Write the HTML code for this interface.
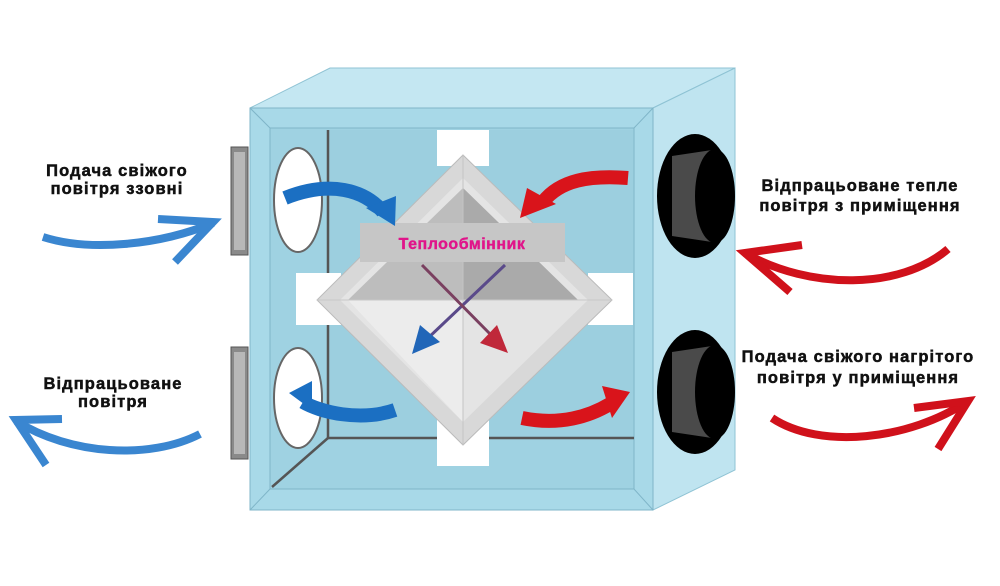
<!DOCTYPE html>
<html><head><meta charset="utf-8"><style>
body{margin:0;background:#fff;width:1000px;height:586px;overflow:hidden}
svg{display:block}
text{font-family:"Liberation Sans",sans-serif;font-weight:bold}
</style></head><body>
<svg width="1000" height="586" viewBox="0 0 1000 586">
<!-- top face -->
<polygon points="250,108 330,68 735,68 653,108" fill="#c4e7f2" stroke="#8fc3d4" stroke-width="1"/>
<!-- right face -->
<polygon points="653,108 735,68 735,470 653,510" fill="#bfe4f0" stroke="#8fc3d4" stroke-width="1"/>
<!-- front frame -->
<rect x="250" y="108" width="403" height="402" fill="#a8d9e8" stroke="#7fb5c8"/>
<rect x="270" y="128" width="364" height="361" fill="#9fd2e2" stroke="#7fb5c8"/>
<line x1="250" y1="108" x2="270" y2="128" stroke="#7fb5c8"/>
<line x1="653" y1="108" x2="634" y2="128" stroke="#7fb5c8"/>
<line x1="250" y1="510" x2="270" y2="489" stroke="#7fb5c8"/>
<line x1="653" y1="510" x2="634" y2="489" stroke="#7fb5c8"/>
<!-- inner back -->
<rect x="328" y="130" width="305" height="308" fill="#9ccfdf"/>
<polyline points="328,130 328,438 634,438" fill="none" stroke="#555" stroke-width="2.5"/>
<line x1="328" y1="438" x2="272" y2="487" stroke="#555" stroke-width="2.5"/>
<!-- left ports -->
<rect x="231" y="147" width="17" height="108" fill="#8a8a8a" stroke="#555"/>
<rect x="234" y="152" width="11" height="98" fill="#b8b8b8"/>
<rect x="231" y="347" width="17" height="112" fill="#8a8a8a" stroke="#555"/>
<rect x="234" y="352" width="11" height="102" fill="#b8b8b8"/>
<ellipse cx="298" cy="200" rx="24" ry="52" fill="#fff" stroke="#666" stroke-width="2"/>
<ellipse cx="298" cy="398" rx="24" ry="50" fill="#fff" stroke="#666" stroke-width="2"/>
<!-- right ports -->
<ellipse cx="695" cy="196" rx="38" ry="62" fill="#000"/>
<path d="M672,156 L712,150 L712,242 L672,236 Z" fill="#4a4a4a"/>
<ellipse cx="715" cy="196" rx="20" ry="47" fill="#000"/>
<ellipse cx="695" cy="392" rx="38" ry="62" fill="#000"/>
<path d="M672,352 L712,346 L712,438 L672,432 Z" fill="#4a4a4a"/>
<ellipse cx="715" cy="392" rx="20" ry="47" fill="#000"/>
<!-- white notches -->
<rect x="437" y="130" width="52" height="36" fill="#fff"/>
<rect x="437" y="420" width="52" height="46" fill="#fff"/>
<rect x="296" y="273" width="45" height="52" fill="#fff"/>
<rect x="588" y="273" width="45" height="52" fill="#fff"/>
<!-- diamond -->
<polygon points="463,155 612,300 463,445 317,300" fill="#d8d8d8" stroke="#bbb"/>
<polygon points="463,178 588,300 463,422 340,300" fill="#e4e4e4"/>
<polygon points="463,188 578,300 348,300" fill="#bdbdbd"/>
<polygon points="463,188 578,300 463,300" fill="#aaa"/>
<polygon points="348,300 463,300 463,422" fill="#ececec"/>
<line x1="463" y1="155" x2="463" y2="445" stroke="#c4c4c4"/>
<line x1="317" y1="300" x2="612" y2="300" stroke="#c8c8c8"/>
<!-- label -->
<rect x="360" y="223" width="205" height="39" fill="#c6c6c6"/>
<text x="462" y="249" font-size="16" fill="#e0158a" text-anchor="middle" stroke="#e0158a" stroke-width="0.4" letter-spacing="0.5">Теплообмінник</text>
<!-- cross arrows -->
<line x1="505" y1="265" x2="426" y2="340" stroke="#5a4a8a" stroke-width="3"/>
<polygon points="412,354 420,325 440,342" fill="#2166b8"/>
<line x1="422" y1="265" x2="496" y2="340" stroke="#7a4060" stroke-width="3"/>
<polygon points="508,353 480,343 497,325" fill="#c0283a"/>
<!-- inner blue arrows -->
<path d="M285,198 C330,180 365,190 383,212" fill="none" stroke="#1b6fc2" stroke-width="14"/>
<polygon points="395,226 366,208 396,196" fill="#1b6fc2"/>
<path d="M395,410 C360,422 320,412 303,402" fill="none" stroke="#1b6fc2" stroke-width="14"/>
<polygon points="289,393 312,381 312,410" fill="#1b6fc2"/>
<!-- inner red arrows -->
<path d="M628,178 C590,175 560,180 543,202" fill="none" stroke="#d9141b" stroke-width="14"/>
<polygon points="520,218 527,188 556,204" fill="#d9141b"/>
<path d="M522,418 C560,426 590,416 610,404" fill="none" stroke="#d9141b" stroke-width="14"/>
<polygon points="630,392 602,386 612,418" fill="#d9141b"/>
<!-- left outer arrows -->
<g fill="none" stroke="#3a86d0" stroke-width="8">
<path d="M43,237 C90,252 160,245 213,223"/>
<path d="M158,219 L213,222 L175,262"/>
<path d="M200,434 C150,460 70,455 16,421"/>
<path d="M62,419 L16,420 L46,465"/>
</g>
<!-- right outer arrows -->
<g fill="none" stroke="#d0111b" stroke-width="8">
<path d="M948,249 C900,290 810,290 745,253"/>
<path d="M802,245 L745,253 L790,292"/>
<path d="M772,418 C820,450 910,440 968,401"/>
<path d="M914,408 L968,401 L938,449"/>
</g>
<!-- labels -->
<g font-size="16.5" fill="#111" stroke="#111" stroke-width="0.5" text-anchor="middle" letter-spacing="1.1">
<text x="117" y="176">Подача свіжого</text>
<text x="117" y="194">повітря ззовні</text>
<text x="113" y="389">Відпрацьоване</text>
<text x="113" y="407">повітря</text>
<text x="860" y="191">Відпрацьоване тепле</text>
<text x="860" y="211">повітря з приміщення</text>
<text x="858" y="362">Подача свіжого нагрітого</text>
<text x="858" y="383">повітря у приміщення</text>
</g>
</svg>
</body></html>
